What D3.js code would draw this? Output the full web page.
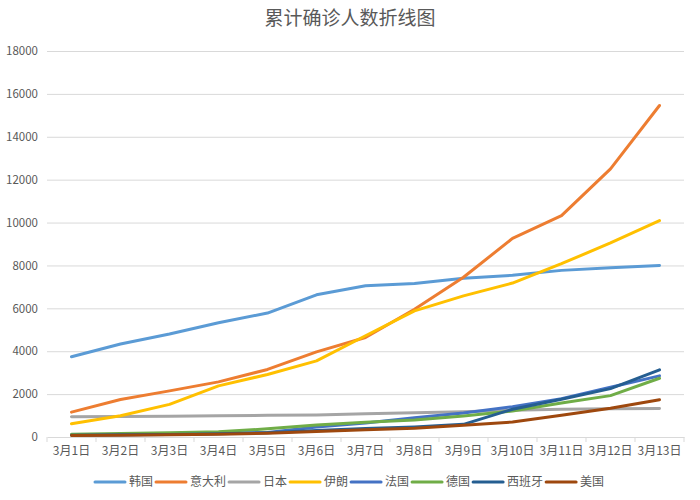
<!DOCTYPE html>
<html>
<head>
<meta charset="utf-8">
<script src="https://cdn.jsdelivr.net/npm/d3@7"></script>
<style>
  body { margin: 0; background: #fff; }
  text { font-family: "Noto Sans CJK SC", "Noto Sans", sans-serif; fill: #595959; }
</style>
</head>
<body>
<svg id="chart" width="700" height="500"></svg>
<script>
// 数据
const dates = ['3月1日', '3月2日', '3月3日', '3月4日', '3月5日', '3月6日', '3月7日',
               '3月8日', '3月9日', '3月10日', '3月11日', '3月12日', '3月13日'];
const yTicks = [0, 2000, 4000, 6000, 8000, 10000, 12000, 14000, 16000, 18000];
const names = ['韩国', '意大利', '日本', '伊朗', '法国', '德国', '西班牙', '美国'];
const korea   = [3740, 4340, 4800, 5330, 5780, 6630, 7050, 7160, 7400, 7540, 7770, 7890, 8000];
const italy   = [1160, 1750, 2150, 2570, 3150, 3970, 4640, 5960, 7450, 9260, 10320, 12500, 15460];
const japan   = [950, 960, 970, 990, 1010, 1030, 1080, 1130, 1180, 1250, 1290, 1320, 1330];
const iran    = [620, 990, 1520, 2385, 2915, 3550, 4720, 5880, 6580, 7180, 8080, 9050, 10090];
const france  = [100, 110, 130, 160, 210, 470, 650, 900, 1120, 1415, 1790, 2320, 2850];
const germany = [130, 160, 200, 240, 380, 560, 690, 795, 980, 1215, 1590, 1930, 2740];
const spain   = [85, 100, 120, 150, 200, 300, 400, 470, 590, 1295, 1760, 2255, 3130];
const usa     = [75, 85, 100, 130, 180, 260, 340, 405, 545, 700, 1010, 1340, 1740];
const colors = ['#5B9BD5', '#ED7D31', '#A5A5A5', '#FFC000', '#4472C4', '#70AD47', '#255E91', '#9E480E'];

const seriesValues = [korea, italy, japan, iran, france, germany, spain, usa];
const series = names.map((name, i) => ({name: name, color: colors[i], values: seriesValues[i]}));

const svg = d3.select('#chart');
const margin = {top: 51, right: 16, bottom: 63, left: 47};
const width = 700, height = 500;
const innerWidth = width - margin.left - margin.right;
const innerHeight = height - margin.top - margin.bottom;

const x = d3.scaleBand().domain(dates).range([0, innerWidth]);
const y = d3.scaleLinear().domain([0, 18000]).range([innerHeight, 0]);

svg.append('text')
    .attr('x', width / 2)
    .attr('y', 25)
    .attr('text-anchor', 'middle')
    .style('font-size', '19px')
    .text('累计确诊人数折线图');

const g = svg.append('g').attr('transform', `translate(${margin.left},${margin.top})`);

// y 轴 + 网格线
const yAxis = g.append('g')
    .call(d3.axisLeft(y).tickValues(yTicks).tickSize(-innerWidth).tickPadding(9).tickFormat(d3.format('d')));
yAxis.select('.domain').remove();
yAxis.selectAll('.tick line')
    .attr('stroke', '#D9D9D9')
    .attr('stroke-opacity', d => d === 0 ? 0 : 1);
yAxis.selectAll('.tick text')
    .attr('fill', '#595959')
    .style('font-size', '11.5px')
    .style('font-family', '"Noto Sans CJK SC", sans-serif');

// x 轴
const xAxis = g.append('g')
    .attr('transform', `translate(0,${innerHeight})`)
    .call(d3.axisBottom(x).tickSize(0).tickPadding(9));
xAxis.select('.domain').attr('stroke', '#D9D9D9');
xAxis.selectAll('.tick text')
    .attr('fill', '#595959')
    .style('font-size', '12px')
    .style('font-family', '"Noto Sans CJK SC", sans-serif');
xAxis.selectAll('.tick-mark')
    .data(d3.range(dates.length + 1))
    .join('line')
    .attr('class', 'tick-mark')
    .attr('x1', i => i * x.step()).attr('x2', i => i * x.step())
    .attr('y1', 0).attr('y2', 5)
    .attr('stroke', '#D9D9D9');

// 折线
const line = d3.line()
    .x((d, i) => x(dates[i]) + x.bandwidth() / 2)
    .y(d => y(d));

g.selectAll('.series')
    .data(series)
    .join('path')
    .attr('class', 'series')
    .attr('fill', 'none')
    .attr('stroke', d => d.color)
    .attr('stroke-width', 3)
    .attr('stroke-linejoin', 'round')
    .attr('stroke-linecap', 'round')
    .attr('d', d => line(d.values));

// 图例
const legend = svg.append('g').attr('transform', 'translate(0,482)');
let lx = 95;
series.forEach(s => {
    legend.append('line')
        .attr('x1', lx).attr('x2', lx + 30)
        .attr('stroke', s.color)
        .attr('stroke-width', 3)
        .attr('stroke-linecap', 'round');
    const t = legend.append('text')
        .attr('x', lx + 34)
        .attr('dy', '0.35em')
        .style('font-size', '12px')
        .text(s.name);
    lx += 34 + t.node().getComputedTextLength() + 3;
});
</script>
</body>
</html>
